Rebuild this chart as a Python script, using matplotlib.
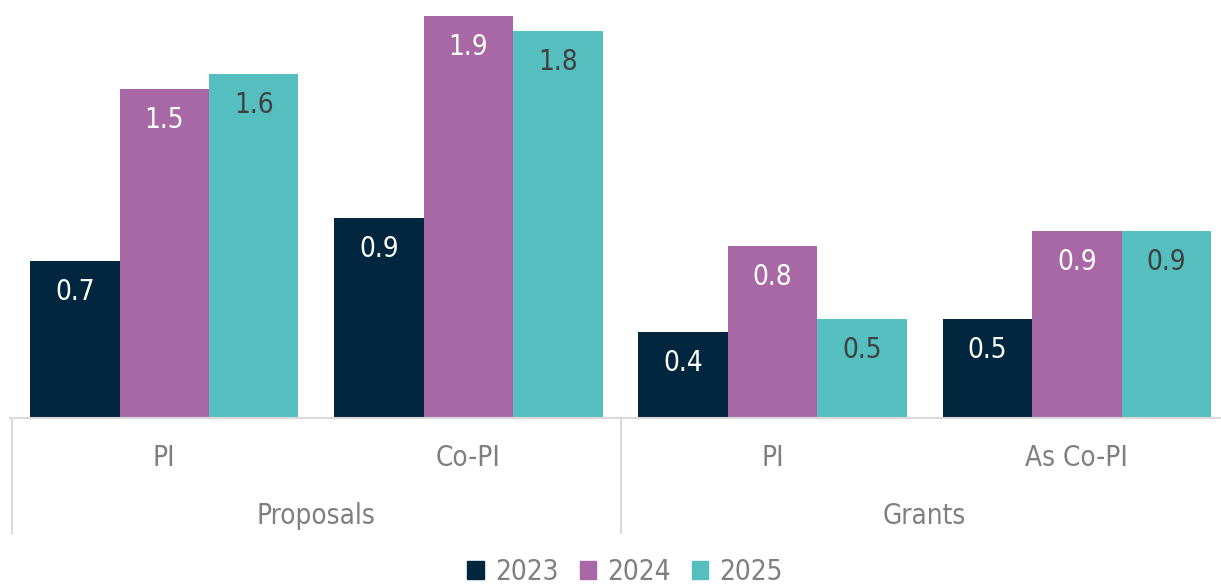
import matplotlib.pyplot as plt
from matplotlib.patches import Patch
import numpy as np

groups = ['Proposals', 'Grants']
roles = ['PI', 'Co-PI', 'PI', 'As Co-PI']
years = ['2023', '2024', '2025']
vals_2023 = [0.73, 0.93, 0.40, 0.46]
vals_2024 = [1.53, 1.87, 0.80, 0.87]
vals_2025 = [1.60, 1.80, 0.46, 0.87]

colors = ['#01263D', '#A868A6', '#55BEBE']
label_colors = ['white', 'white', '#404040']
grid_col = '#D9D9D9'
text_col = '#7F7F7F'

plt.rcParams['font.family'] = ['DejaVu Sans']
plt.rcParams['font.stretch'] = 'condensed'

fig = plt.figure(figsize=(12.21, 5.86), dpi=100)
ax = fig.add_axes([10 / 1221, 168 / 586, 1 - 10 / 1221, 418 / 586])

x = np.arange(len(roles))
w = 0.294
series = [vals_2023, vals_2024, vals_2025]
for i, vals in enumerate(series):
    pos = x + (i - 1) * w
    ax.bar(pos, vals, width=w, color=colors[i], edgecolor='none')
    for px, v in zip(pos, vals):
        ax.text(px, v - 0.145, f'{v:.1f}', ha='center', va='center',
                fontsize=20, color=label_colors[i])

ax.set_xlim(-0.507, 3.474)
ax.set_ylim(0, 1.944)
for s in ax.spines.values():
    s.set_visible(False)
ax.set_xticks([])
ax.set_yticks([])

# category axis with two tiers
trans = ax.get_xaxis_transform()
ax.plot([-0.507, 3.474], [0, 0], color=grid_col, lw=1.5, transform=trans, clip_on=False)
for sx in [-0.5, 1.5]:
    ax.plot([sx, sx], [0, -0.275], color=grid_col, lw=1.5, transform=trans, clip_on=False)
for xi, r in zip(x, roles):
    ax.text(xi, -0.096, r, ha='center', va='center', fontsize=20, color=text_col, transform=trans)
for gi, g in enumerate(groups):
    ax.text(0.5 + 2 * gi, -0.234, g, ha='center', va='center', fontsize=20,
            color=text_col, transform=trans)

handles = [Patch(color=c, label=y) for c, y in zip(colors, years)]
fig.legend(handles=handles, loc='center', bbox_to_anchor=(0.512, 0.024), ncol=3,
           frameon=False, fontsize=20, labelcolor=text_col, handlelength=0.6,
           handleheight=0.6, handletextpad=0.4, columnspacing=0.75)

fig.savefig('out.png', dpi=100)
